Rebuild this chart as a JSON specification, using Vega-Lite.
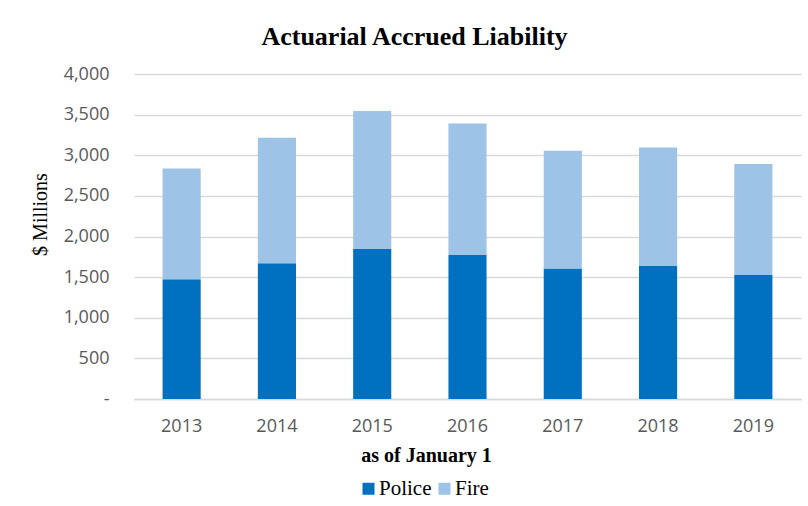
{
  "$schema": "https://vega.github.io/schema/vega-lite/v6.json",
  "width": 667,
  "height": 325,
  "autosize": {"type": "none"},
  "padding": {"left": 134, "top": 74, "right": 7, "bottom": 107},
  "background": "white",
  "title": {
    "text": "Actuarial Accrued Liability",
    "font": "Liberation Serif",
    "fontSize": 26,
    "fontWeight": "bold",
    "color": "#000000",
    "anchor": "middle",
    "dx": -53,
    "offset": 15
  },
  "data": {
    "values": [
      {"year": "2013", "series": "Police", "value": 1473},
      {"year": "2013", "series": "Fire", "value": 1364},
      {"year": "2014", "series": "Police", "value": 1670},
      {"year": "2014", "series": "Fire", "value": 1545},
      {"year": "2015", "series": "Police", "value": 1847},
      {"year": "2015", "series": "Fire", "value": 1697},
      {"year": "2016", "series": "Police", "value": 1773},
      {"year": "2016", "series": "Fire", "value": 1619},
      {"year": "2017", "series": "Police", "value": 1605},
      {"year": "2017", "series": "Fire", "value": 1450},
      {"year": "2018", "series": "Police", "value": 1637},
      {"year": "2018", "series": "Fire", "value": 1459},
      {"year": "2019", "series": "Police", "value": 1526},
      {"year": "2019", "series": "Fire", "value": 1365}
    ]
  },
  "mark": {"type": "bar"},
  "encoding": {
    "x": {
      "field": "year",
      "type": "nominal",
      "scale": {"paddingInner": 0.6, "paddingOuter": 0.3},
      "axis": {
        "title": "as of January 1",
        "titleFont": "Liberation Serif",
        "titleFontSize": 20,
        "titleFontWeight": "bold",
        "titleColor": "#000000",
        "titleX": 292,
        "titleY": 62,
        "titleBaseline": "alphabetic",
        "titleAlign": "center",
        "labelAngle": 0,
        "labelFont": "Open Sans",
        "labelFontSize": 18,
        "labelColor": "#595959",
        "labelPadding": 18,
        "ticks": false,
        "domain": true,
        "domainColor": "#d9d9d9",
        "domainWidth": 1.5
      }
    },
    "y": {
      "field": "value",
      "type": "quantitative",
      "stack": "zero",
      "scale": {"domain": [0, 4000], "nice": false},
      "axis": {
        "title": "$ Millions",
        "titleFont": "Liberation Serif",
        "titleFontSize": 20,
        "titleFontWeight": "normal",
        "titleColor": "#000000",
        "titleAngle": -90,
        "titleX": -94,
        "titleY": 140,
        "titleAlign": "center",
        "titleBaseline": "middle",
        "values": [0, 500, 1000, 1500, 2000, 2500, 3000, 3500, 4000],
        "labelExpr": "datum.value == 0 ? '-\u00a0\u00a0\u00a0' : format(datum.value, ',')",
        "labelFont": "Open Sans",
        "labelFontSize": 18,
        "labelColor": "#595959",
        "labelPadding": 25,
        "ticks": false,
        "domain": false,
        "grid": true,
        "gridColor": "#d9d9d9",
        "gridWidth": 1.5
      }
    },
    "color": {
      "field": "series",
      "type": "nominal",
      "scale": {"domain": ["Police", "Fire"], "range": ["#0070C0", "#9DC3E6"]},
      "legend": {
        "title": null,
        "orient": "none",
        "direction": "horizontal",
        "legendX": 224,
        "legendY": 404,
        "symbolType": "square",
        "symbolSize": 144,
        "symbolStrokeWidth": 0,
        "labelFont": "Liberation Serif",
        "labelFontSize": 21,
        "labelColor": "#000000",
        "labelOffset": 0,
        "columnPadding": 2
      }
    },
    "order": {"field": "series", "sort": "descending"}
  },
  "config": {
    "view": {"stroke": null}
  }
}
